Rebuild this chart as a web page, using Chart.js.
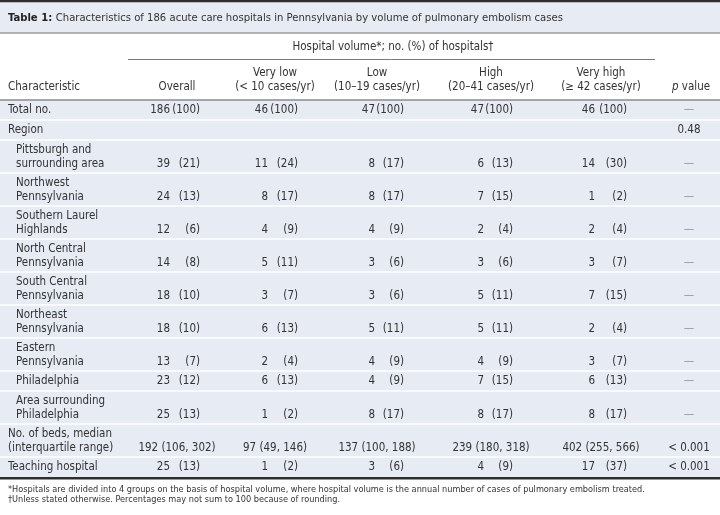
<!DOCTYPE html>
<html>
<head>
<meta charset="utf-8">
<script src="https://cdn.jsdelivr.net/npm/chart.js@4"></script>
<style>
  body { margin: 0; background: #fff; }
  canvas { display: block; }
</style>
</head>
<body>
<canvas id="tableChart" width="720" height="515"></canvas>
<script>
// table data
const title = 'Characteristics of 186 acute care hospitals in Pennsylvania by volume of pulmonary embolism cases';
const spanHeader = 'Hospital volume*; no. (%) of hospitals\u2020';
const columnHeaders = ['Overall', 'Very low\n(< 10 cases/yr)', 'Low\n(10\u201319 cases/yr)', 'High\n(20\u201341 cases/yr)', 'Very high\n(\u2265 42 cases/yr)'];
const characteristics = [
    'Total no.', 'Region', 'Pittsburgh and\nsurrounding area', 'Northwest\nPennsylvania',
    'Southern Laurel\nHighlands', 'North Central\nPennsylvania', 'South Central\nPennsylvania',
    'Northeast\nPennsylvania', 'Eastern\nPennsylvania', 'Philadelphia',
    'Area surrounding\nPhiladelphia', 'No. of beds, median\n(interquartile range)', 'Teaching hospital'
];
const indented = [false, false, true, true, true, true, true, true, true, true, true, false, false];

// counts and percentages per volume group (null = no value in that row)
const overallN = [186, null, 39, 24, 12, 14, 18, 18, 13, 23, 25, null, 25];
const overallPct = [100, null, 21, 13, 6, 8, 10, 10, 7, 12, 13, null, 13];
const veryLowN = [46, null, 11, 8, 4, 5, 3, 6, 2, 6, 1, null, 1];
const veryLowPct = [100, null, 24, 17, 9, 11, 7, 13, 4, 13, 2, null, 2];
const lowN = [47, null, 8, 8, 4, 3, 3, 5, 4, 4, 8, null, 3];
const lowPct = [100, null, 17, 17, 9, 6, 6, 11, 9, 9, 17, null, 6];
const highN = [47, null, 6, 7, 2, 3, 5, 5, 4, 7, 8, null, 4];
const highPct = [100, null, 13, 15, 4, 6, 11, 11, 9, 15, 17, null, 9];
const veryHighN = [46, null, 14, 1, 2, 3, 7, 2, 3, 6, 8, null, 17];
const veryHighPct = [100, null, 30, 2, 4, 7, 15, 4, 7, 13, 17, null, 37];

// beds row: median (q1, q3) per group
const bedsMedian = [192, 97, 137, 239, 402];
const bedsQ1 = [106, 49, 100, 180, 255];
const bedsQ3 = [302, 146, 188, 318, 566];

const pValues = ['\u2014', '0.48', '\u2014', '\u2014', '\u2014', '\u2014', '\u2014', '\u2014', '\u2014', '\u2014', '\u2014', '< 0.001', '< 0.001'];

const footnotes = [
    '*Hospitals are divided into 4 groups on the basis of hospital volume, where hospital volume is the annual number of cases of pulmonary embolism treated.',
    '\u2020Unless stated otherwise. Percentages may not sum to 100 because of rounding.'
];

const countCols = [overallN, veryLowN, lowN, highN, veryHighN];
const pctCols = [overallPct, veryLowPct, lowPct, highPct, veryHighPct];
const bedsRow = 11;

// layout (scale units)
const colCenter = [177, 275, 377, 491, 601];
const countRight = [170, 268, 375, 484, 595];
const pctRight = [200, 298, 404, 513, 627];
const pCenter = 689;
const bodyTop = 100;

const FONT = "'DejaVu Sans Condensed', 'DejaVu Sans', sans-serif";
const TEXT = '#333';
const BAND = '#e7ebf4';

const tablePlugin = {
    id: 'tableDraw',
    beforeDatasetsDraw(chart) {
        const ctx = chart.ctx;
        const xs = chart.scales.x;
        const ys = chart.scales.y;
        const X = v => xs.getPixelForValue(v);
        const Y = v => ys.getPixelForValue(v);

        const hline = (x0, x1, y, w, color) => {
            ctx.beginPath();
            ctx.strokeStyle = color;
            ctx.lineWidth = w;
            ctx.moveTo(X(x0), Y(y));
            ctx.lineTo(X(x1), Y(y));
            ctx.stroke();
        };
        const text = (s, x, y, align, color, font) => {
            ctx.font = font || ('11.5px ' + FONT);
            ctx.fillStyle = color || TEXT;
            ctx.textAlign = align || 'left';
            ctx.textBaseline = 'middle';
            ctx.fillText(s, X(x), Y(y));
        };

        ctx.save();

        // title bar
        ctx.fillStyle = BAND;
        ctx.fillRect(X(0), Y(0), X(720) - X(0), Y(33) - Y(0));
        hline(0, 720, 1, 2.5, '#2e2e2e');
        hline(0, 720, 33, 1.5, '#9c9c9c');
        const tFont = '11.2px ' + FONT;
        ctx.font = 'bold ' + tFont;
        const lbl = 'Table 1: ';
        const lw = ctx.measureText(lbl).width;
        text(lbl, 8, 18, 'left', '#222', 'bold ' + tFont);
        ctx.font = tFont;
        ctx.fillStyle = TEXT;
        ctx.textAlign = 'left';
        ctx.fillText(title, X(8) + lw, Y(18));

        // header
        text(spanHeader, 393, 47, 'center');
        hline(128, 655, 59.5, 1, '#7a7a7a');
        text('Characteristic', 8, 87, 'left');
        columnHeaders.forEach((h, i) => {
            const parts = h.split('\n');
            if (parts.length === 1) {
                text(parts[0], colCenter[i], 87, 'center');
            } else {
                text(parts[0], colCenter[i], 73, 'center');
                text(parts[1], colCenter[i], 87, 'center');
            }
        });
        ctx.font = 'italic 11.5px ' + FONT;
        const pw = ctx.measureText('p').width;
        ctx.font = '11.5px ' + FONT;
        const vw = ctx.measureText(' value').width;
        const px0 = X(pCenter + 2) - (pw + vw) / 2;
        ctx.textAlign = 'left';
        ctx.fillStyle = TEXT;
        ctx.font = 'italic 11.5px ' + FONT;
        ctx.fillText('p', px0, Y(87));
        ctx.font = '11.5px ' + FONT;
        ctx.fillText(' value', px0 + pw, Y(87));

        // body rows
        let top = bodyTop;
        const rowTops = [];
        characteristics.forEach(c => {
            const lines = c.split('\n').length;
            const h = lines === 1 ? 20 : 33;
            rowTops.push([top, h, lines]);
            top += h;
        });
        const bodyBottom = top;
        ctx.fillStyle = BAND;
        ctx.fillRect(X(0), Y(bodyTop), X(720) - X(0), Y(bodyBottom) - Y(bodyTop));
        rowTops.forEach(([t], i) => {
            if (i > 0) hline(0, 720, t, 1.5, '#ffffff');
        });
        hline(0, 720, bodyTop, 1.5, '#8a8a8a');

        characteristics.forEach((c, r) => {
            const [t, h, lines] = rowTops[r];
            const parts = c.split('\n');
            const lx = indented[r] ? 16 : 8;
            let vy;
            if (lines === 1) {
                vy = t + h / 2 + 0.5;
                text(parts[0], lx, vy);
            } else {
                text(parts[0], lx, t + 10.5);
                vy = t + 24;
                text(parts[1], lx, vy);
            }
            if (r === bedsRow) {
                bedsMedian.forEach((m, i) => {
                    text(m + ' (' + bedsQ1[i] + ', ' + bedsQ3[i] + ')', colCenter[i], vy, 'center');
                });
            } else {
                countCols.forEach((col, i) => {
                    if (col[r] === null) return;
                    text(String(col[r]), countRight[i], vy, 'right');
                    text('(' + pctCols[i][r] + ')', pctRight[i], vy, 'right');
                });
            }
            const pv = pValues[r];
            if (pv === '\u2014') {
                text(pv, pCenter, vy, 'center', '#9a9a9a');
            } else if (pv) {
                text(pv, pCenter, vy, 'center');
            }
        });

        hline(0, 720, bodyBottom + 1.2, 2.5, '#2e2e2e');

        // footnotes
        footnotes.forEach((f, i) => {
            text(f, 8, 490 + i * 10, 'left', TEXT, '9.1px ' + FONT);
        });

        ctx.restore();
    }
};

new Chart(document.getElementById('tableChart'), {
    type: 'scatter',
    data: { datasets: [] },
    options: {
        responsive: false,
        animation: false,
        layout: { padding: 0 },
        plugins: { legend: { display: false }, tooltip: { enabled: false } },
        scales: {
            x: { type: 'linear', min: 0, max: 720, display: false },
            y: { type: 'linear', min: 0, max: 515, reverse: true, display: false }
        }
    },
    plugins: [tablePlugin]
});
</script>
</body>
</html>
